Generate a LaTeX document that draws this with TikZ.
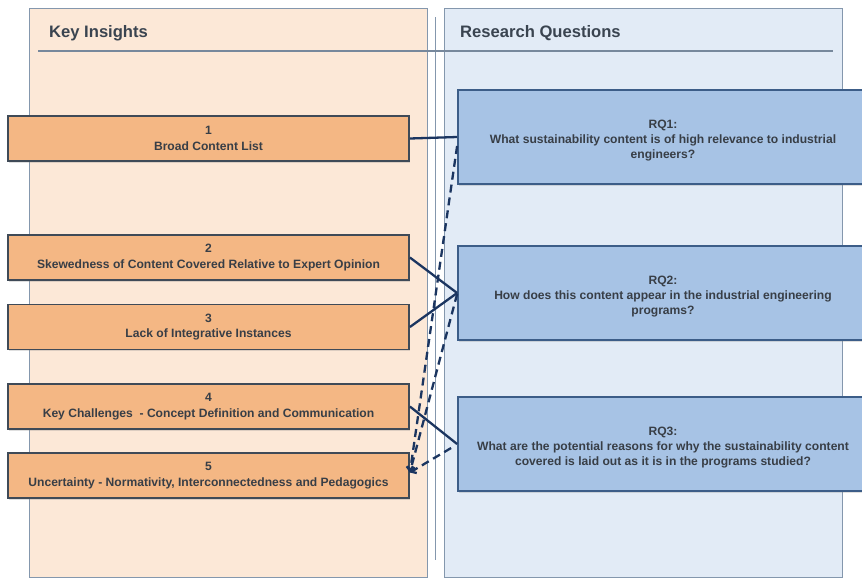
\documentclass[tikz,border=0pt]{standalone}
\usepackage{fontspec}
\setmainfont{Liberation Sans}
\usetikzlibrary{arrows.meta,shadows}

\definecolor{panelL}{HTML}{FCE8D7}
\definecolor{panelR}{HTML}{E2EBF6}
\definecolor{panelEdge}{HTML}{8497AD}
\definecolor{insightFill}{HTML}{F4B784}
\definecolor{insightEdge}{HTML}{3F4A57}
\definecolor{rqFill}{HTML}{A7C3E5}
\definecolor{rqEdge}{HTML}{3C5D88}
\definecolor{linkCol}{HTML}{1B3560}
\definecolor{titleCol}{HTML}{3A4450}
\definecolor{textCol}{HTML}{383E46}

% taller first line pushes the question text slightly downwards
\newcommand{\rqstrut}{\rule{0pt}{15pt}}

\tikzset{
  panel/.style={draw=panelEdge, line width=1pt},
  paneltitle/.style={anchor=west, font=\fontsize{16.6}{19}\selectfont\bfseries, text=titleCol, inner sep=0pt},
  insight/.style={draw=insightEdge, fill=insightFill, line width=1.8pt,
    minimum width=401pt, minimum height=45pt, inner sep=0pt, align=center,
    font=\fontsize{12.1}{15.5}\selectfont\bfseries, text=textCol,
    drop shadow={opacity=0.25, shadow xshift=1pt, shadow yshift=-1.5pt}},
  rq/.style={draw=rqEdge, fill=rqFill, line width=1.8pt,
    minimum width=410pt, minimum height=94pt, inner sep=0pt, align=center,
    font=\fontsize{12.1}{15}\selectfont\bfseries, text=textCol,
    drop shadow={opacity=0.25, shadow xshift=1pt, shadow yshift=-1.5pt}},
  link/.style={draw=linkCol, line width=2.3pt},
  backlink/.style={draw=linkCol, line width=2.3pt, dash pattern=on 8pt off 5pt,
    -{Straight Barb[length=4pt,width=8pt]}},
}

\begin{document}
\begin{tikzpicture}[x=1pt, y=-1pt]
\useasboundingbox (0,0) rectangle (862,579);
\clip (0,0) rectangle (862,579);
\fill[white] (0,0) rectangle (862,579);

% two column panels
\path[panel, fill=panelL] (29,8) rectangle (427,577);
\path[panel, fill=panelR] (444,8) rectangle (842,577);
\coordinate (sepTop) at (435,17);
\coordinate (sepBot) at (435,560);
\draw[panelEdge, line width=1pt] (sepTop) -- (sepBot);

% column headings and rule
\node[paneltitle] (hKI) at (49,33) {Key Insights};
\node[paneltitle] (hRQ) at (460,33) {Research Questions};
\coordinate (ruleL) at (38,51);
\coordinate (ruleR) at (833,51);
\draw[panelEdge!90!black, line width=1.1pt] (ruleL) -- (ruleR);

% key insights
\node[insight] (b1) at (208.5,138.5) {1\\Broad Content List};
\node[insight] (b2) at (208.5,257.5) {2\\Skewedness of Content Covered Relative to Expert Opinion};
\node[insight] (b3) at (208.5,327) {3\\Lack of Integrative Instances};
\node[insight] (b4) at (208.5,406.5) {4\\Key Challenges \ - Concept Definition and Communication};
\node[insight] (b5) at (208.5,475.5) {5\\Uncertainty - Normativity, Interconnectedness and Pedagogics};

% research questions
\node[rq] (q1) at (663,137) {\rqstrut RQ1:\\What sustainability content is of high relevance to industrial\\engineers?};
\node[rq] (q2) at (663,293) {\rqstrut RQ2:\\How does this content appear in the industrial engineering\\programs?};
\node[rq] (q3) at (663,444) {\rqstrut RQ3:\\What are the potential reasons for why the sustainability content\\covered is laid out as it is in the programs studied?};

% links from insights to questions
\draw[link] (b1.east) -- (q1.west);
\draw[link] (b2.east) -- (q2.west);
\draw[link] (b3.east) -- (q2.west);
\draw[link] (b4.east) -- (q3.west);

% dashed links back to insight 5
\draw[backlink] ([yshift=-9pt]q1.west) -- ([yshift=3pt]b5.east);
\draw[backlink] ([yshift=-1pt]q2.west) -- ([yshift=3pt]b5.east);
\draw[backlink] ([xshift=-6pt,yshift=-4pt]q3.west) -- ([yshift=3pt]b5.east);
\end{tikzpicture}
\end{document}
